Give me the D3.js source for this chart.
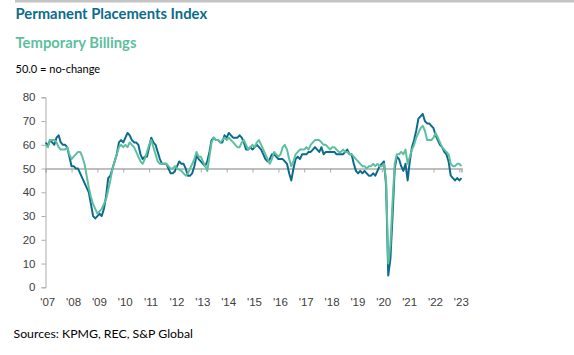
<!DOCTYPE html>
<html>
<head>
<meta charset="utf-8">
<script src="https://cdn.jsdelivr.net/npm/d3@7"></script>
<style>
  html, body { margin: 0; padding: 0; background: #fff; }
  svg { display: block; }
</style>
</head>
<body>
<div id="chart"></div>
<script>
// ---- data (monthly, Jan 2007 – Feb 2023) ----
const startYear = 2007;
const yearLabels = ["'07","'08","'09","'10","'11","'12","'13","'14","'15","'16","'17","'18","'19","'20","'21","'22","'23"];
const yTicks = [0, 10, 20, 30, 40, 50, 60, 70, 80];
const noChange = 50;

const permanentPlacements = [
  61, 59.5, 62, 61, 60, 63, 64, 61, 60, 60, 59, 55,      // 2007
  51, 51, 50, 50, 48, 46, 44, 42, 40, 35, 30, 29,        // 2008
  30, 31, 30, 33, 38, 46, 47, 50, 53, 56, 61, 62,        // 2009
  61, 63, 65, 64, 62, 61, 61, 60, 56, 54, 55, 55,        // 2010
  59, 63, 61, 60, 57, 54, 52, 52, 52, 50, 48, 48,        // 2011
  49, 51, 53, 52, 52, 50, 47, 47, 48, 51, 55.5, 54,      // 2012
  53, 52, 51, 53, 57, 62, 63, 62, 62, 61, 61, 64,        // 2013
  63, 65, 64, 63, 63, 63, 64, 63, 61, 58, 58, 59,        // 2014
  58, 59, 60, 59, 58, 56, 54, 53, 54, 56, 56, 55,        // 2015
  54, 54, 54, 53, 52, 48, 45, 50, 54, 55, 54, 56,        // 2016
  56, 56, 57, 57, 58, 59, 58, 57, 59, 56, 57, 57,        // 2017
  57, 57, 57, 56, 56, 56, 56, 57, 58, 56, 56, 52,        // 2018
  49, 48, 49, 48, 49, 48, 47, 47, 48, 47, 49, 51,        // 2019
  52, 53, 43, 5, 12, 30, 50, 55, 54, 51, 49, 52,         // 2020
  45, 53, 59, 62, 66, 71, 72, 73, 70, 69, 69, 68,        // 2021
  67, 64, 62, 60, 59, 57, 56, 53, 47, 46, 45, 46,        // 2022
  45, 46                                                  // 2023
];

const temporaryBillings = [
  60, 59, 62, 62, 62, 61, 59, 58, 58, 58, 59, 56,        // 2007
  54, 55, 56, 57, 57, 55, 52, 47, 42, 38, 35, 33,        // 2008
  31, 32, 33, 35, 37, 41, 45, 50, 53, 56, 59, 60,        // 2009
  59, 60, 59, 61, 60, 59, 57, 55, 53, 52, 54, 57,        // 2010
  60, 62, 59, 56, 53, 52, 52, 52, 52, 51, 50, 50,        // 2011
  51, 50, 49.5, 49, 48, 47, 48, 50, 52, 54, 57, 55,      // 2012
  55, 53, 51, 49, 55, 61, 63, 62, 62, 61, 62, 63,        // 2013
  62, 63, 62, 61, 60, 59, 59, 61, 62, 60, 58, 59,        // 2014
  60, 59, 61, 62, 60, 58, 56, 54, 52, 54, 57, 56,        // 2015
  55, 56, 59, 60, 58, 54, 51, 53, 56, 57, 58, 58,        // 2016
  58, 59, 58, 60, 61, 62, 62, 62, 61, 60, 60, 59,        // 2017
  58, 59, 59, 58, 57, 57, 58, 57, 57, 56, 56, 55,        // 2018
  54, 53, 52, 51, 51, 50, 51, 51, 52, 51, 52, 51,        // 2019
  51, 52, 45, 10, 18, 36, 52, 56, 56, 57, 56, 58,        // 2020
  52, 55, 58, 60, 63, 65, 67, 68, 66, 62, 62, 62,        // 2021
  63, 65, 63, 61, 59, 58, 57, 56, 52, 51, 51, 52,        // 2022
  52, 51                                                  // 2023
];

// ---- layout ----
const W = 574, H = 355;
const colPerm = "#0b6b8c";
const colTemp = "#5dbf9e";
const axisGrey = "#ababab";

const svg = d3.select("#chart").append("svg")
  .attr("width", W).attr("height", H);

// top grey rule
svg.append("rect").attr("x", 15).attr("y", 0).attr("width", W - 15).attr("height", 2.5)
  .attr("fill", "#c4c4c4");

// titles
svg.append("text").attr("x", 15.5).attr("y", 18.5)
  .attr("font-family", "Lato, sans-serif").attr("font-weight", "bold")
  .attr("font-size", 14.8).attr("fill", colPerm)
  .text("Permanent Placements Index");
svg.append("text").attr("x", 15.5).attr("y", 47.5)
  .attr("font-family", "Lato, sans-serif").attr("font-weight", "bold")
  .attr("font-size", 14.8).attr("fill", colTemp)
  .text("Temporary Billings");
svg.append("text").attr("x", 15.5).attr("y", 73)
  .attr("font-family", "Lato, sans-serif")
  .attr("font-size", 11).attr("fill", "#000")
  .text("50.0 = no-change");

// scales
const n = permanentPlacements.length;
const x = d3.scaleLinear().domain([0, n - 1]).range([45.7, 461.5]);
const y = d3.scaleLinear().domain([0, 80]).range([287.3, 97.3]);

// y axis
const yAxis = d3.axisLeft(y).tickValues(yTicks).tickSize(4).tickPadding(6).tickFormat(d3.format("d"));
const gy = svg.append("g").attr("transform", "translate(45.5,0)").call(yAxis);
gy.select(".domain").attr("stroke", axisGrey).attr("stroke-width", 1);
gy.selectAll(".tick line").attr("stroke", axisGrey);
gy.selectAll(".tick text").attr("font-family", "'Liberation Sans', Arial, sans-serif")
  .attr("font-size", 11.5).attr("fill", "#404040");

// horizontal axis at 50 with year tick marks
const yearIdx = yearLabels.map((_, k) => k * 12);
const xAxis = d3.axisBottom(x).tickValues(yearIdx).tickSize(4).tickFormat("");
const gx = svg.append("g").attr("transform", `translate(0,${y(noChange)})`).call(xAxis);
gx.select(".domain").attr("stroke", axisGrey).attr("stroke-width", 1.6);
gx.selectAll(".tick line").attr("stroke", axisGrey);

// x labels (low position)
svg.append("g").selectAll("text").data(yearLabels).join("text")
  .attr("x", (d, k) => x(yearIdx[k]) + 2)
  .attr("y", 306)
  .attr("text-anchor", "middle")
  .attr("font-family", "'Liberation Sans', Arial, sans-serif")
  .attr("font-size", 11.5).attr("fill", "#404040")
  .text(d => d);

// lines
const line = d3.line().x((d, k) => x(k)).y(d => y(d));
svg.append("path").datum(permanentPlacements)
  .attr("d", line).attr("fill", "none")
  .attr("stroke", colPerm).attr("stroke-width", 2).attr("stroke-linejoin", "round");
svg.append("path").datum(temporaryBillings)
  .attr("d", line).attr("fill", "none")
  .attr("stroke", colTemp).attr("stroke-width", 2).attr("stroke-linejoin", "round");

// source
svg.append("text").attr("x", 13.5).attr("y", 337.5)
  .attr("font-family", "Lato, sans-serif")
  .attr("font-size", 12.3).attr("fill", "#000")
  .text("Sources: KPMG, REC, S&P Global");
</script>
</body>
</html>
